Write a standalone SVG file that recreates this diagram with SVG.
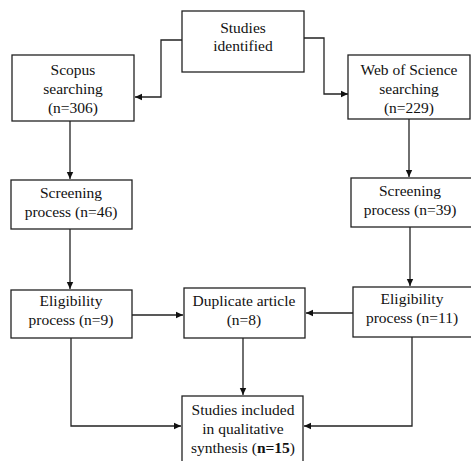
<svg xmlns="http://www.w3.org/2000/svg" width="471" height="461" viewBox="0 0 471 461">
<style>
.box{fill:#fff;stroke:#222;stroke-width:1.3}
.t{font-family:"Liberation Serif","Times New Roman",serif;font-size:15.5px;fill:#111;text-anchor:middle}
.c{fill:none;stroke:#222;stroke-width:1.3}
</style>
<defs>
<marker id="ah" markerWidth="8" markerHeight="8" refX="7" refY="4" orient="auto" markerUnits="userSpaceOnUse">
<path d="M0,0.8 L7,4 L0,7.2 Z" fill="#111"/>
</marker>
</defs>
<rect width="471" height="461" fill="#fff"/>
<g id="connectors">
<polyline class="c" points="182,40 161,40 161,97 135,97" marker-end="url(#ah)"/>
<polyline class="c" points="304,38 324,38 324,94 348,94" marker-end="url(#ah)"/>
<line class="c" x1="70" y1="121" x2="70" y2="179" marker-end="url(#ah)"/>
<line class="c" x1="409" y1="119" x2="409" y2="177" marker-end="url(#ah)"/>
<line class="c" x1="70" y1="229" x2="70" y2="289" marker-end="url(#ah)"/>
<line class="c" x1="410" y1="227" x2="410" y2="286" marker-end="url(#ah)"/>
<line class="c" x1="132" y1="315" x2="183" y2="315" marker-end="url(#ah)"/>
<line class="c" x1="353" y1="313" x2="306" y2="313" marker-end="url(#ah)"/>
<line class="c" x1="243" y1="338" x2="243" y2="395" marker-end="url(#ah)"/>
<polyline class="c" points="71,338 71,426 181,426" marker-end="url(#ah)"/>
<polyline class="c" points="412,337 412,426 304,426" marker-end="url(#ah)"/>
</g>
<g id="studies-identified">
<rect class="box" x="182" y="11" width="122" height="61"/>
<text class="t" x="243" y="33">Studies</text>
<text class="t" x="243" y="51">identified</text>
</g>
<g id="scopus">
<rect class="box" x="12" y="55" width="122" height="66"/>
<text class="t" x="73" y="75">Scopus</text>
<text class="t" x="73" y="94">searching</text>
<text class="t" x="73" y="113">(n=306)</text>
</g>
<g id="wos">
<rect class="box" x="348" y="55" width="122" height="64"/>
<text class="t" x="409" y="75">Web of Science</text>
<text class="t" x="409" y="94">searching</text>
<text class="t" x="409" y="113">(n=229)</text>
</g>
<g id="screening-left">
<rect class="box" x="11" y="180" width="121" height="49"/>
<text class="t" x="71" y="198">Screening</text>
<text class="t" x="71" y="217">process (n=46)</text>
</g>
<g id="screening-right">
<rect class="box" x="351" y="178" width="121" height="49"/>
<text class="t" x="410" y="196">Screening</text>
<text class="t" x="410" y="215">process (n=39)</text>
</g>
<g id="eligibility-left">
<rect class="box" x="11" y="290" width="121" height="48"/>
<text class="t" x="71" y="306">Eligibility</text>
<text class="t" x="71" y="325">process (n=9)</text>
</g>
<g id="duplicate">
<rect class="box" x="184" y="288" width="121" height="50"/>
<text class="t" x="244" y="306">Duplicate article</text>
<text class="t" x="244" y="325">(n=8)</text>
</g>
<g id="eligibility-right">
<rect class="box" x="353" y="287" width="120" height="50"/>
<text class="t" x="412" y="304">Eligibility</text>
<text class="t" x="412" y="323">process (n=11)</text>
</g>
<g id="included">
<rect class="box" x="182" y="396" width="121" height="70"/>
<text class="t" x="243" y="415">Studies included</text>
<text class="t" x="243" y="434">in qualitative</text>
<text class="t" x="243" y="453">synthesis (<tspan font-weight="bold">n=15</tspan>)</text>
</g>
</svg>
